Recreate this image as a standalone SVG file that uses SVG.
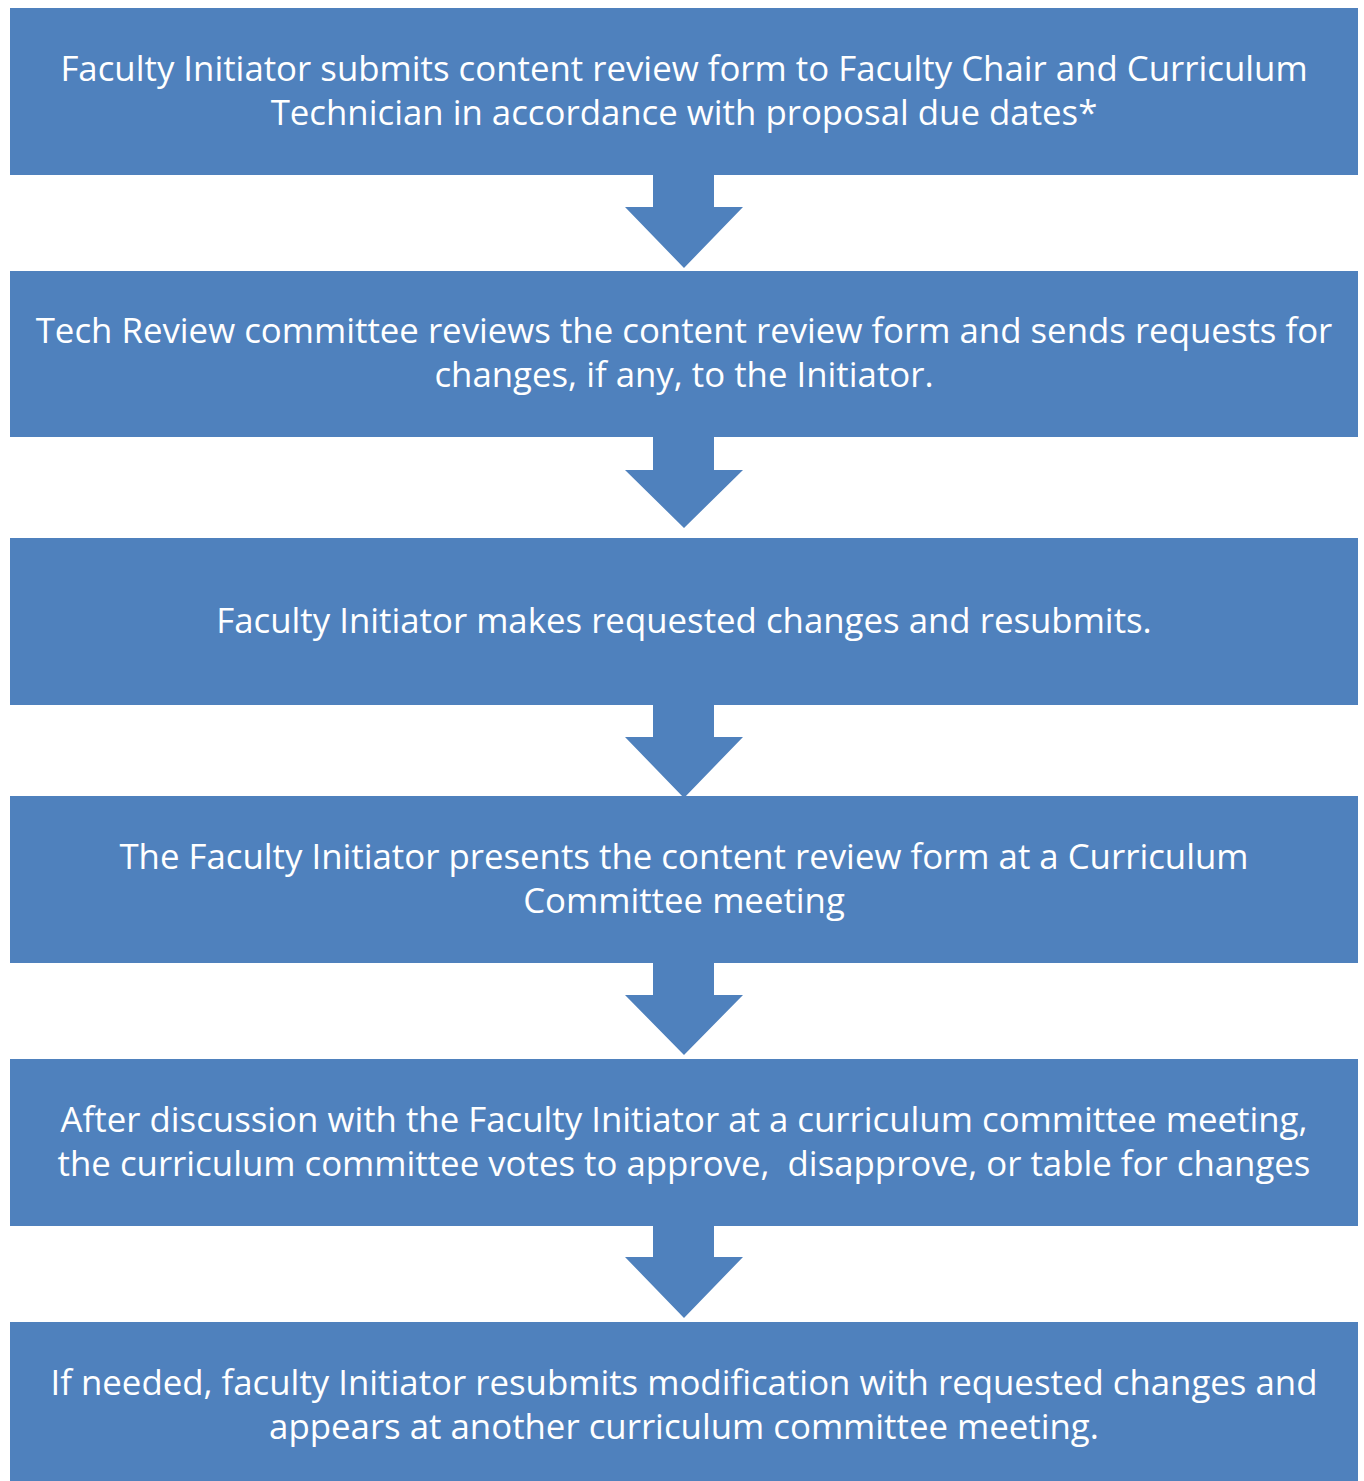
<svg xmlns="http://www.w3.org/2000/svg" width="1364" height="1481" viewBox="0 0 1364 1481">
  <style>
    .box { fill: #4F81BD; }
    .arrow { fill: #4F81BD; }
    .label { fill: #FFFFFF; font-family: "Open Sans", "Noto Sans", "Liberation Sans", sans-serif; font-size: 34.8px; text-anchor: middle; }
  </style>
  <rect width="1364" height="1481" fill="#FFFFFF"/>

  <g id="connectors">
    <polygon class="arrow" points="653,175 714,175 714,207 743,207 684,268 625,207 653,207"/>
    <polygon class="arrow" points="653,437 714,437 714,470 743,470 684,528 625,470 653,470"/>
    <polygon class="arrow" points="653,705 714,705 714,737 743,737 684,798 625,737 653,737"/>
    <polygon class="arrow" points="653,963 714,963 714,995 743,995 684,1055 625,995 653,995"/>
    <polygon class="arrow" points="653,1226 714,1226 714,1257 743,1257 684,1318 625,1257 653,1257"/>
  </g>

  <g id="step1">
    <rect class="box" x="10" y="8" width="1348" height="167"/>
    <text class="label" x="684" y="81">Faculty Initiator submits content review form to Faculty Chair and Curriculum</text>
    <text class="label" x="684" y="125">Technician in accordance with proposal due dates*</text>
  </g>

  <g id="step2">
    <rect class="box" x="10" y="271" width="1348" height="166"/>
    <text class="label" x="684" y="343">Tech Review committee reviews the content review form and sends requests for</text>
    <text class="label" x="684" y="387">changes, if any, to the Initiator.</text>
  </g>

  <g id="step3">
    <rect class="box" x="10" y="538" width="1348" height="167"/>
    <text class="label" x="684" y="633">Faculty Initiator makes requested changes and resubmits.</text>
  </g>

  <g id="step4">
    <rect class="box" x="10" y="796" width="1348" height="167"/>
    <text class="label" x="684" y="869">The Faculty Initiator presents the content review form at a Curriculum</text>
    <text class="label" x="684" y="913">Committee meeting</text>
  </g>

  <g id="step5">
    <rect class="box" x="10" y="1059" width="1348" height="167"/>
    <text class="label" x="684" y="1132">After discussion with the Faculty Initiator at a curriculum committee meeting,</text>
    <text class="label" x="684" y="1176" xml:space="preserve">the curriculum committee votes to approve,  disapprove, or table for changes</text>
  </g>

  <g id="step6">
    <rect class="box" x="10" y="1322" width="1348" height="159"/>
    <text class="label" x="684" y="1395">If needed, faculty Initiator resubmits modification with requested changes and</text>
    <text class="label" x="684" y="1439">appears at another curriculum committee meeting.</text>
  </g>
</svg>
